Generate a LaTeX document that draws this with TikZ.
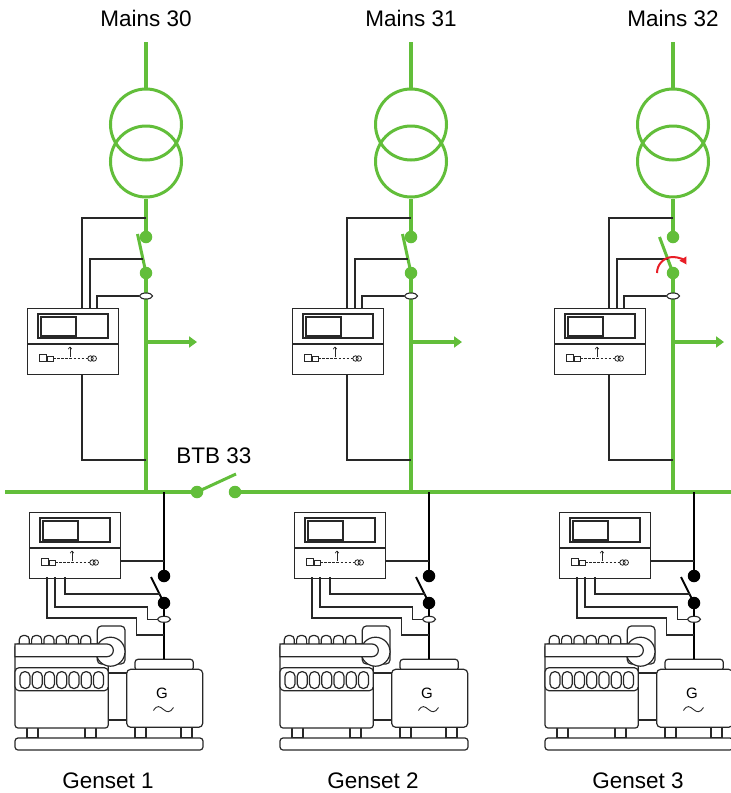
\documentclass[tikz,border=0pt]{standalone}
\usepackage{fontspec}
\setmainfont{Liberation Sans}
\usetikzlibrary{arrows.meta,shapes.geometric}
\definecolor{feed}{RGB}{98,190,58}
\definecolor{alarmred}{RGB}{232,30,38}
\definecolor{ink}{RGB}{40,40,40}

\tikzset{
  % controller unit: display, status row, wire ports
  ctrl/.pic={
    \node[part, anchor=north west, minimum width=91pt, minimum height=66pt, inner sep=0pt] (-box) at (0,0) {};
    \draw[fineline] (0,36) -- (91,36);
    \draw[fineline] (11,6) rectangle (81,30);
    \draw[fineline] (14,9) rectangle (49,28);
    \draw[ink, line width=0.7pt, -{Straight Barb[length=2pt,width=3.5pt]}] (43,49) -- (43,38.5);
    \draw[ink, line width=0.8pt] (12.5,46.5) rectangle (19,53);
    \draw[ink, line width=0.8pt] (20.5,48) rectangle (26,53);
    \draw[ink, line width=0.7pt, dash pattern=on 2.5pt off 1.6pt] (26,50.5) -- (61,50.5);
    \draw[ink, line width=0.8pt] (63.5,50.5) circle (2.7) (66.8,50.5) circle (2.7);
    \coordinate (-p1) at (55,0);
    \coordinate (-p2) at (63,0);
    \coordinate (-p3) at (70,0);
    \coordinate (-b1) at (55,66);
    \coordinate (-q1) at (18,65);
    \coordinate (-q2) at (26,65);
    \coordinate (-q3) at (36,65);
    \coordinate (-r) at (91,49);
  },
  % diesel engine with alternator on a common frame
  genset/.pic={
    \draw[part] (108,673) rectangle (128,720);
    \foreach \f in {27,85,135,181} \draw[part] (\f,727.5) rectangle (\f+11,738);
    \draw[part, rounded corners=3] (15,738) rectangle (203,750);
    \draw[part, rounded corners=3] (15,644) rectangle (108.3,728);
    \foreach \k in {0,...,5}
      \draw[part, rounded corners=4] ({19.3+12.3*\k},644.5) -- ++(0,-9) -- ++(10,0) -- ++(0,9);
    \draw[part, rounded corners=4] (97.3,626) rectangle (125,664);
    \draw[part] (110.5,651.7) circle (14.5);
    \draw[part] (15,644) -- (107,644) arc[start angle=-90, end angle=90, radius=6.35] -- (15,656.7) -- cycle;
    \draw[part, rounded corners=4] (15,667.7) rectangle (108.3,690.7);
    \foreach \k in {0,...,6}
      \draw[part, rounded corners=4.5] ({20+12.25*\k},671.7) rectangle ++(10,16.7);
    \draw[part, rounded corners=3] (135,659.3) rectangle (193.3,670.5);
    \draw[part, rounded corners=4] (126.7,669.3) rectangle (202.7,727.3);
    \coordinate (-cap) at (164,659.3);
    \node[font=\fontsize{15}{17}\selectfont, inner sep=0pt] (-g) at (162,693) {G};
    \draw[ink, line width=0.9pt] (153.5,710.5) .. controls (157,704.5) and (160,706.5) .. (163.5,709.5)
      .. controls (167,712.5) and (170,713) .. (173.5,707.5);
  }
}

\begin{document}
\begin{tikzpicture}[x=1pt, y=-1pt,
  bus/.style={feed, line width=4pt},
  feeder/.style={feed, line width=3.3pt},
  blade/.style={feed, line width=3pt},
  coil/.style={circle, draw=feed, line width=3pt, minimum size=71pt, inner sep=0pt},
  wire/.style={ink, line width=1.3pt},
  gline/.style={black, line width=2pt},
  gblade/.style={black, line width=1.8pt},
  part/.style={draw=ink, line width=1.2pt, fill=white},
  fineline/.style={draw=ink, line width=1.2pt},
  gdot/.style={circle, fill=feed, inner sep=0pt, minimum size=12.5pt},
  kdot/.style={circle, fill=black, inner sep=0pt, minimum size=12.5pt},
  ct/.style={ellipse, draw=ink, fill=white, line width=1.1pt, minimum width=13pt, minimum height=6pt, inner sep=0pt},
  caption/.style={font=\fontsize{22.5}{27}\selectfont, anchor=base, inner sep=0pt},
]
\useasboundingbox (0,0) rectangle (731,793);
\fill[white] (0,0) rectangle (731,793);

% ---- busbar with bus tie breaker ----
\node[gdot] (btbA) at (197,492) {};
\node[gdot] (btbB) at (235,492) {};
\coordinate (busW) at (5,492);
\coordinate (busE) at (731,492);
\coordinate (btbT) at (236,474);
\draw[bus] (busW) -- (btbA);
\draw[bus] (btbB) -- (busE);
\draw[blade] (btbA.center) -- (btbT);
\node[caption] (btbname) at (214,463) {BTB 33};

% ---- mains feeders ----
\foreach \i/\x/\n/\bx/\by in {1/146/30/8.5/234, 2/411/31/8.5/234, 3/673/32/13.5/237} {
  \begin{scope}[shift={({\x-146},0)}]
    \node[caption] (mains\i) at (146,26) {Mains \n};
    \coordinate (in\i) at (146,42);
    \node[coil] (tu\i) at (146,124.5) {};
    \node[coil] (tl\i) at (146,161.5) {};
    \draw[feeder] (in\i) -- (tu\i.north);
    \node[gdot] (up\i) at (146,237) {};
    \node[gdot] (lo\i) at (146,273) {};
    \draw[feeder] (tl\i.south) -- (up\i);
    \coordinate (bt\i) at ({146-\bx},\by);
    \draw[blade] (lo\i.center) -- (bt\i);
    \coordinate (bus\i) at (146,492);
    \draw[feeder] (lo\i) -- (bus\i);
    \coordinate (tee\i) at (146,342);
    \coordinate (out\i) at (197,342);
    \draw[feeder, -{Triangle[length=8pt,width=11pt]}] (tee\i) -- (out\i);
    \node[ct] (ct\i) at (146,296) {};
    \pic (mc\i) at (27,308) {ctrl};
    \coordinate (tap\i) at (146,218);
    \coordinate (bl\i) at ({146-\bx*14/(273-\by)},259);
    \coordinate (ret\i) at (146,460);
    \draw[wire] (mc\i-p1) |- (tap\i);
    \draw[wire] (mc\i-p2) |- (bl\i);
    \draw[wire] (mc\i-p3) |- (ct\i.west);
    \draw[wire] (mc\i-b1) |- (ret\i);
  \end{scope}
}

% breaker being operated
\coordinate (swingA) at (657,273);
\draw[alarmred, line width=2pt, -{Triangle[length=7pt,width=7.5pt]}]
  (swingA) arc[start angle=180, end angle=328, radius=16];

% ---- generator sets ----
\foreach \i/\x in {1/164, 2/429, 3/694} {
  \begin{scope}[shift={({\x-164},0)}]
    \pic (gs\i) at (0,0) {genset};
    \coordinate (gtap\i) at (164,492);
    \node[kdot] (gu\i) at (164,576) {};
    \node[kdot] (gl\i) at (164,603) {};
    \coordinate (gb\i) at (151,577);
    \draw[gline] (gtap\i) -- (gu\i);
    \draw[gblade] (gl\i.center) -- (gb\i);
    \draw[gline] (gl\i) -- (gs\i-cap);
    \node[ct] (gct\i) at (164,619.3) {};
    \pic (gc\i) at (29,512) {ctrl};
    \coordinate (gm\i) at (164,561);
    \coordinate (gbl\i) at (159.5,594);
    \coordinate (gw\i) at (164,635);
    \draw[wire] (gc\i-r) -- (gm\i);
    \draw[wire] (gc\i-q3) |- (gbl\i);
    \draw[wire] (gc\i-q2) |- (147.7,607) |- (gct\i.west);
    \draw[wire] (gc\i-q1) |- (136.7,618) |- (gw\i);
    \node[caption] (gname\i) at (108,788) {Genset \i};
  \end{scope}
}
\end{tikzpicture}
\end{document}
